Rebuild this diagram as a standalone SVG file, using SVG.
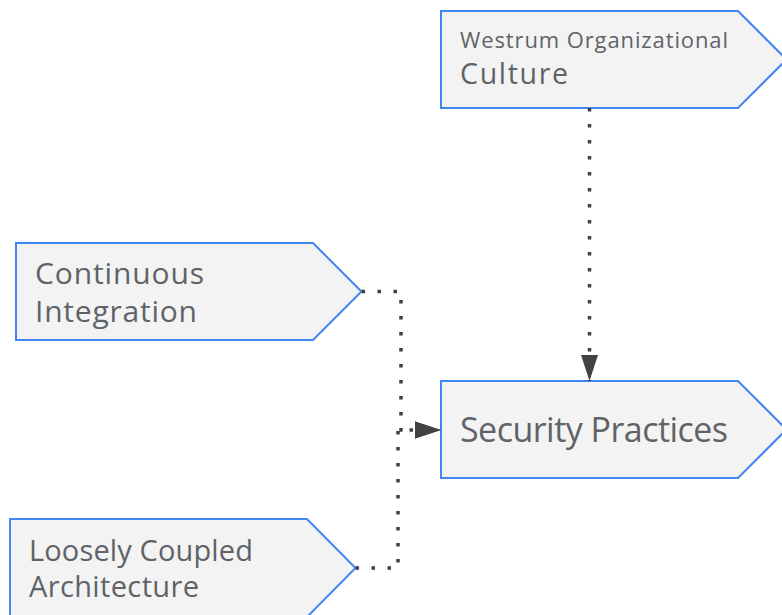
<svg xmlns="http://www.w3.org/2000/svg" width="782" height="615" viewBox="0 0 782 615">
<style>
.node{fill:#f3f3f3;stroke:#4285f4;stroke-width:2;stroke-linejoin:miter}
.t{font-family:"Open Sans","Roboto","Liberation Sans",sans-serif;fill:#5f6368}
.edge{fill:none;stroke:#404040;stroke-width:3.5;stroke-dasharray:3.5 12.5}
</style>
<defs>
<marker id="arr" markerUnits="userSpaceOnUse" markerWidth="27" markerHeight="18" refX="26" refY="9" orient="auto">
<path d="M0,0.5 L26,9 L0,17.5 Z" fill="#424242"/>
</marker>
</defs>
<rect width="782" height="615" fill="#ffffff"/>
<g id="westrum">
<polygon class="node" points="441,11 738,11 786.5,59.5 738,108 441,108"/>
<text class="t" x="460" y="48" font-size="22" textLength="268">Westrum Organizational</text>
<text class="t" x="460" y="84" font-size="28.5" textLength="108">Culture</text>
</g>
<g id="security">
<polygon class="node" points="441,381 738,381 786.5,429.5 738,478 441,478"/>
<text class="t" x="460" y="442" font-size="34" textLength="268">Security Practices</text>
</g>
<g id="ci">
<polygon class="node" points="16,243 313,243 361.5,291.5 313,340 16,340"/>
<text class="t" x="35" y="284" font-size="30" textLength="169">Continuous</text>
<text class="t" x="35" y="322" font-size="30" textLength="162">Integration</text>
</g>
<g id="lca">
<polygon class="node" points="10,519 307,519 355.5,568 307,617 10,617"/>
<text class="t" x="29" y="561" font-size="29" textLength="224">Loosely Coupled</text>
<text class="t" x="29" y="597" font-size="29" textLength="170">Architecture</text>
</g>
<g id="connectors">
<path class="edge" d="M589.5,108 V381" marker-end="url(#arr)"/>
<path class="edge" d="M361.5,291.5 H401 V430 H441" marker-end="url(#arr)"/>
<path class="edge" d="M355.5,568 H398 V430 H441" marker-end="url(#arr)"/>
</g>
</svg>
